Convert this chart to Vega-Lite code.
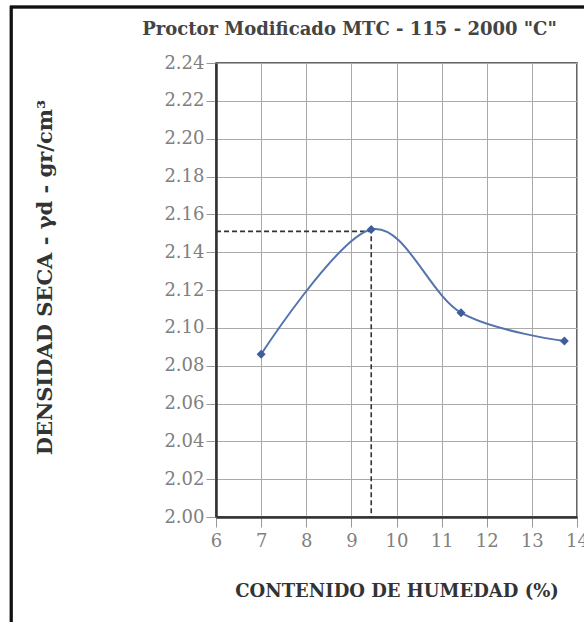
{
  "$schema": "https://vega.github.io/schema/vega-lite/v6.json",
  "width": 361,
  "height": 454,
  "autosize": {"type": "none"},
  "padding": {"left": 216, "top": 63, "right": 7, "bottom": 105},
  "background": "white",
  "title": {
    "text": "Proctor Modificado MTC - 115 - 2000 \"C\"",
    "font": "DejaVu Serif",
    "fontSize": 18,
    "fontWeight": "bold",
    "color": "#444",
    "anchor": "middle",
    "dx": -47,
    "offset": -33
  },
  "datasets": {
    "pts": [
      {"humedad": 7.0, "densidad": 2.086},
      {"humedad": 9.44, "densidad": 2.152},
      {"humedad": 11.43, "densidad": 2.108},
      {"humedad": 13.72, "densidad": 2.093}
    ],
    "opt": [
      {"humedad": 6.0, "densidad": 2.151, "orden": 1},
      {"humedad": 9.44, "densidad": 2.151, "orden": 2},
      {"humedad": 9.44, "densidad": 2.0, "orden": 3}
    ]
  },
  "config": {
    "view": {"stroke": "#333", "strokeWidth": 1.5},
    "axis": {
      "labelFont": "DejaVu Serif",
      "labelFontSize": 18,
      "labelColor": "#808080",
      "titleFont": "DejaVu Serif",
      "titleFontSize": 18,
      "titleFontWeight": "bold",
      "titleColor": "#333",
      "gridColor": "#aaa",
      "gridWidth": 1,
      "tickColor": "#999",
      "tickSize": 10,
      "domainColor": "#333",
      "domainWidth": 2.5
    }
  },
  "encoding": {
    "x": {
      "field": "humedad",
      "type": "quantitative",
      "scale": {"domain": [6, 14], "nice": false, "zero": false},
      "axis": {
        "values": [6, 7, 8, 9, 10, 11, 12, 13, 14],
        "format": "d",
        "labelPadding": 5,
        "title": "CONTENIDO DE HUMEDAD (%)",
        "titleY": 74,
        "titleBaseline": "middle",
        "labelFlush": false
      }
    },
    "y": {
      "field": "densidad",
      "type": "quantitative",
      "scale": {"domain": [2.0, 2.24], "nice": false, "zero": false},
      "axis": {
        "values": [2.0, 2.02, 2.04, 2.06, 2.08, 2.1, 2.12, 2.14, 2.16, 2.18, 2.2, 2.22, 2.24],
        "format": ".2f",
        "labelPadding": 2,
        "title": "DENSIDAD SECA - γd - gr/cm³",
        "titleFontSize": 21,
        "titleX": -171,
        "titleY": 214,
        "titleAngle": -90,
        "titleAlign": "center",
        "titleBaseline": "middle",
        "labelFlush": false
      }
    }
  },
  "layer": [
    {
      "data": {"name": "pts"},
      "mark": {"type": "rect", "fill": null, "filled": false, "stroke": "#111", "strokeWidth": 2.5, "clip": false},
      "encoding": {
        "x": {"datum": 1.46, "type": "quantitative"},
        "x2": {"datum": 16},
        "y": {"datum": 2.2696, "type": "quantitative"},
        "y2": {"datum": 1.85}
      }
    },
    {
      "data": {"name": "opt"},
      "mark": {"type": "line", "strokeDash": [5, 3], "strokeWidth": 1.6, "color": "#333"},
      "encoding": {
        "order": {"field": "orden", "type": "quantitative"}
      }
    },
    {
      "data": {"name": "pts"},
      "mark": {"type": "line", "interpolate": "cardinal", "color": "#5573ad", "strokeWidth": 2},
      "encoding": {}
    },
    {
      "data": {"name": "pts"},
      "mark": {"type": "point", "shape": "diamond", "filled": true, "size": 80, "color": "#3e5d9c", "opacity": 1},
      "encoding": {}
    }
  ]
}
